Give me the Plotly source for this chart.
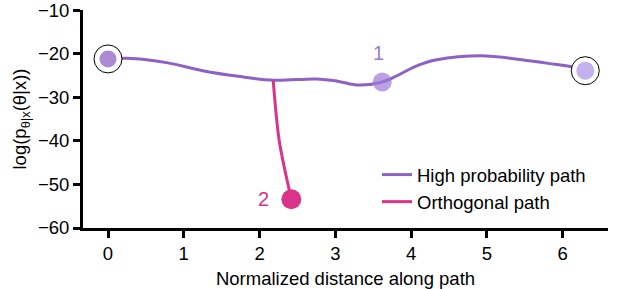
import plotly.graph_objects as go

# High probability path (normalized distance, log-probability)
main_x = [0.0, 0.32, 0.79, 1.25, 1.72, 2.19, 2.75, 3.03, 3.31, 3.62, 3.82, 4.06, 4.34, 4.99, 5.46, 5.92, 6.12, 6.30]
main_y = [-21.2, -21.1, -22.1, -23.9, -25.2, -26.1, -25.8, -26.3, -27.2, -26.5, -25.0, -22.9, -21.4, -20.5, -21.4, -22.5, -23.0, -23.9]

# Orthogonal path
orth_x = [2.18, 2.26, 2.42]
orth_y = [-26.0, -40.0, -53.4]

# Highlighted points
start_pt = (0.0, -21.2)
end_pt = (6.30, -23.9)
pt1 = (3.62, -26.5)
pt2 = (2.42, -53.4)

x_ticks = [0, 1, 2, 3, 4, 5, 6]
y_ticks = [-60, -50, -40, -30, -20, -10]

PURPLE = "#8c62c4"
PINK = "#d9338a"
FONT = "Liberation Sans, Arial, sans-serif"
FS = 18.5

fig = go.Figure()
fig.add_trace(go.Scatter(x=main_x, y=main_y, mode="lines", name="High probability path",
                         line=dict(color=PURPLE, width=3, shape="spline", smoothing=1.0)))
fig.add_trace(go.Scatter(x=orth_x, y=orth_y, mode="lines", name="Orthogonal path",
                         line=dict(color=PINK, width=3, shape="spline", smoothing=0.8)))

# rings
fig.add_trace(go.Scatter(x=[start_pt[0], end_pt[0]], y=[start_pt[1], end_pt[1]], mode="markers",
                         showlegend=False, cliponaxis=False,
                         marker=dict(symbol="circle", size=28, color="white",
                                     line=dict(color="black", width=1))))
# filled markers
fig.add_trace(go.Scatter(x=[start_pt[0], pt1[0], end_pt[0]], y=[start_pt[1], pt1[1], end_pt[1]],
                         mode="markers", showlegend=False, cliponaxis=False,
                         marker=dict(size=[17, 19, 18], color=["#8a55c0", "#9d7bd8", "#a98fe6"],
                                     line=dict(width=0))))
fig.add_trace(go.Scatter(x=[pt2[0]], y=[pt2[1]], mode="markers", showlegend=False, cliponaxis=False,
                         marker=dict(size=20, color=PINK, line=dict(width=0))))

fig.add_annotation(x=pt1[0], y=pt1[1], text="1", showarrow=False, xshift=-4, yshift=29,
                   font=dict(size=20, color="#9d7bd8", family=FONT))
fig.add_annotation(x=pt2[0], y=pt2[1], text="2", showarrow=False, xshift=-28, yshift=0,
                   font=dict(size=20, color=PINK, family=FONT))

axis_common = dict(showline=True, linecolor="black", linewidth=3, ticks="outside", ticklen=7,
                   tickwidth=3, tickcolor="black", showgrid=False, zeroline=False, automargin=False,
                   ticklabeloverflow="allow",
                   tickfont=dict(size=FS, color="black", family=FONT))

fig.update_xaxes(range=[-0.33, 6.6], tickvals=x_ticks,
                 title=dict(text="Normalized distance along path", font=dict(size=FS, color="black", family=FONT),
                            standoff=12),
                 **axis_common)
fig.update_yaxes(range=[-60, -9.97], tickvals=y_ticks,
                 title=dict(text="log(p<sub>θ|x</sub>(θ|x))", font=dict(size=FS, color="black", family=FONT),
                            standoff=7),
                 **axis_common)

fig.update_layout(
    width=617, height=289,
    margin=dict(l=83, r=9, t=10, b=61),
    plot_bgcolor="white", paper_bgcolor="white",
    font=dict(family=FONT, color="black"),
    legend=dict(x=0.56, y=0.33, xanchor="left", yanchor="top", bgcolor="rgba(0,0,0,0)",
                font=dict(size=FS, color="black", family=FONT), tracegroupgap=0),
)

fig.write_html("out.html", config={"displayModeBar": False},
               post_script="document.body.style.margin='0';")
